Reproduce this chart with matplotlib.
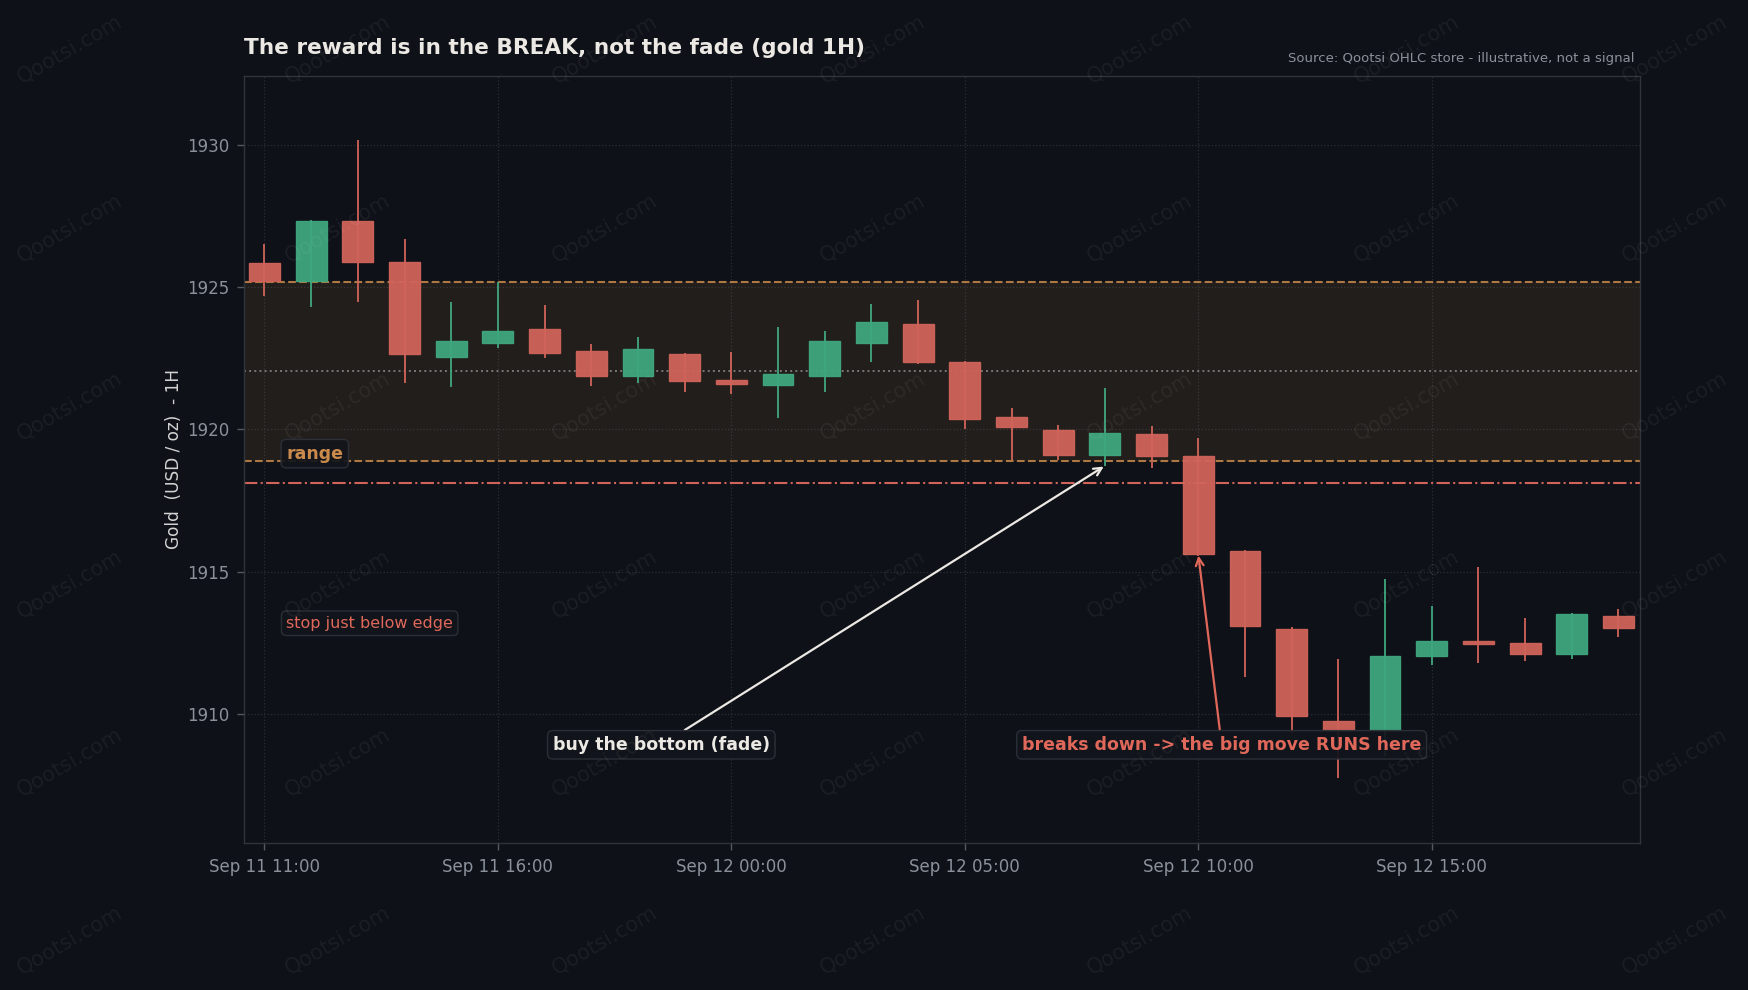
#!/usr/bin/env python3
"""Gold 1H candles: range band, stop line and two annotated trade ideas."""

import matplotlib

matplotlib.use("Agg")
import matplotlib.pyplot as plt
import numpy as np
from matplotlib.patches import Rectangle

# --- data ---
opens = [1925.86, 1925.23, 1927.35, 1925.91, 1922.54, 1923.06, 1923.52, 1922.75,
         1921.90, 1922.64, 1921.73, 1921.55, 1921.87, 1923.06, 1923.73, 1922.36,
         1920.43, 1919.97, 1919.09, 1919.83, 1919.05, 1915.71, 1912.97, 1909.74,
         1909.43, 1912.04, 1912.57, 1912.47, 1912.08, 1913.43]
closes = [1925.23, 1927.35, 1925.91, 1922.67, 1923.10, 1923.48, 1922.71, 1921.90,
          1922.85, 1921.69, 1921.61, 1921.97, 1923.10, 1923.77, 1922.36, 1920.36,
          1920.07, 1919.09, 1919.86, 1919.05, 1915.61, 1913.07, 1909.91, 1909.43,
          1912.04, 1912.57, 1912.45, 1912.08, 1913.50, 1913.01]
highs = [1926.54, 1927.38, 1930.18, 1926.69, 1924.48, 1925.18, 1924.37, 1923.00,
         1923.24, 1922.68, 1922.72, 1923.60, 1923.46, 1924.41, 1924.55, 1922.40,
         1920.75, 1920.15, 1921.45, 1920.12, 1919.69, 1915.75, 1913.04, 1911.93,
         1914.74, 1913.77, 1915.15, 1913.37, 1913.55, 1913.67]
lows = [1924.70, 1924.31, 1924.49, 1921.62, 1921.48, 1922.87, 1922.52, 1921.54,
        1921.62, 1921.33, 1921.26, 1920.41, 1921.33, 1922.38, 1922.31, 1920.01,
        1918.91, 1918.91, 1918.72, 1918.65, 1915.55, 1911.27, 1909.30, 1907.73,
        1908.50, 1911.70, 1911.78, 1911.85, 1911.92, 1912.71]

tick_labels = ["Sep 11 11:00", "Sep 11 16:00", "Sep 12 00:00",
               "Sep 12 05:00", "Sep 12 10:00", "Sep 12 15:00"]
tick_every = 5

range_hi = 1925.2
range_lo = 1918.9
stop_level = 1918.1

fade_idx = 18
break_idx = 20

# --- colours ---
BG = "#0e1117"
UP = "#3fa77e"
DOWN = "#d0645a"
ORANGE = "#c98a4b"
RED_TXT = "#e0685a"
MUTED = "#8b919b"
GRID = "#2a2e35"

plt.rcParams["font.family"] = ["DejaVu Sans"]

fig = plt.figure(figsize=(17.48, 9.9), dpi=100, facecolor=BG)
ax = fig.add_axes([0.1398, 0.1487, 0.7984, 0.7747])
ax.set_facecolor(BG)

x = np.arange(len(opens))
width = 0.66
for i in x:
    o, c, h, l = opens[i], closes[i], highs[i], lows[i]
    col = UP if c >= o else DOWN
    ax.vlines(i, l, h, color=col, linewidth=1.3, zorder=3)
    body_lo = min(o, c)
    body_h = max(abs(c - o), 0.08)
    ax.add_patch(Rectangle((i - width / 2, body_lo), width, body_h,
                           facecolor=col, edgecolor=col, linewidth=1.0,
                           alpha=0.95, zorder=4))

# range band, midline and stop
ax.axhspan(range_lo, range_hi, color=ORANGE, alpha=0.11, linewidth=0, zorder=1)
ax.axhline(range_hi, color=ORANGE, linestyle="--", linewidth=1.5, alpha=0.85, zorder=2)
ax.axhline(range_lo, color=ORANGE, linestyle="--", linewidth=1.5, alpha=0.85, zorder=2)
ax.axhline((range_hi + range_lo) / 2, color="#777777", linestyle=":",
           linewidth=1.4, zorder=2)
ax.axhline(stop_level, color=DOWN, linestyle="-.", linewidth=1.5, zorder=2)

ax.set_xlim(-0.43, len(opens) - 0.54)
ax.set_ylim(1905.45, 1932.45)

ax.set_xticks(x[::tick_every])
ax.set_xticklabels(tick_labels)
ax.set_yticks([1910, 1915, 1920, 1925, 1930])
ax.tick_params(colors=MUTED, labelsize=12, length=5, width=1, pad=6)
ax.tick_params(axis="x", colors="#555a63", labelcolor=MUTED)
ax.tick_params(axis="y", colors="#555a63", labelcolor=MUTED)
ax.grid(True, color=GRID, linestyle=":", linewidth=0.9, zorder=0)
ax.set_axisbelow(True)
for sp in ax.spines.values():
    sp.set_color("#30343b")
    sp.set_linewidth(1.0)

ax.set_ylabel("Gold  (USD / oz)  - 1H", color="#d4d4d4", fontsize=12.2, labelpad=3)
ax.set_title("The reward is in the BREAK, not the fade (gold 1H)", loc="left",
             color="#ece9e4", fontsize=15.6, fontweight="bold", pad=16)
ax.text(0.9964, 1.018, "Source: Qootsi OHLC store - illustrative, not a signal",
        transform=ax.transAxes, ha="right", va="baseline", color=MUTED,
        fontsize=9.5)

box = dict(boxstyle="round,pad=0.3", facecolor="#12151b", edgecolor="#2d3139",
           linewidth=1.0, alpha=0.92)

ax.text(0.03, 1919.15, "range", transform=ax.get_yaxis_transform(),
        color=ORANGE, fontsize=12.5, fontweight="bold", va="center",
        bbox=box, zorder=6)
ax.text(0.03, 1913.18, "stop just below edge", transform=ax.get_yaxis_transform(),
        color=RED_TXT, fontsize=11.5, va="center", bbox=box, zorder=6)

ax.annotate("buy the bottom (fade)", xy=(fade_idx, lows[fade_idx]),
            xytext=(8.5, 1908.9), ha="center", va="center",
            color="#ece9e4", fontsize=12.5, fontweight="bold", bbox=box,
            arrowprops=dict(arrowstyle="->", color="#ece9e4", lw=1.6,
                            shrinkA=0, shrinkB=1, mutation_scale=14),
            zorder=6)
ax.annotate("breaks down -> the big move RUNS here",
            xy=(break_idx, closes[break_idx]),
            xytext=(20.5, 1908.9), ha="center", va="center",
            color=RED_TXT, fontsize=12.5, fontweight="bold", bbox=box,
            arrowprops=dict(arrowstyle="->", color=RED_TXT, lw=1.6,
                            shrinkA=0, shrinkB=1, mutation_scale=14),
            zorder=6)

# watermark grid
for wx in 0.04 + 0.153 * np.arange(7):
    for wy in 0.05 + 0.18 * np.arange(6):
        fig.text(wx, wy, "Qootsi.com", color="white", alpha=0.055, fontsize=15,
                 rotation=30, ha="center", va="center", zorder=20)

fig.savefig("out.png", dpi=100, facecolor=BG)
